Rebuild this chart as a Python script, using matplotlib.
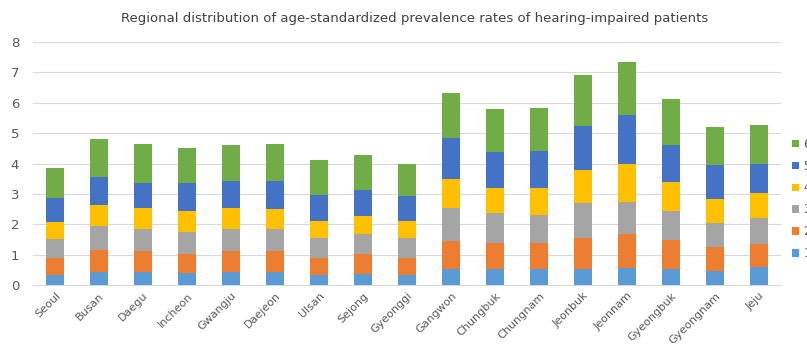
import numpy as np
import matplotlib
matplotlib.use('Agg')
import matplotlib.pyplot as plt

regions = ['Seoul', 'Busan', 'Daegu', 'Incheon', 'Gwangju', 'Daejeon', 'Ulsan',
           'Sejong', 'Gyeonggi', 'Gangwon', 'Chungbuk', 'Chungnam', 'Jeonbuk',
           'Jeonnam', 'Gyeongbuk', 'Gyeongnam', 'Jeju']

# prevalence by group (1..6), one value per region
g1 = [0.33, 0.42, 0.42, 0.38, 0.43, 0.42, 0.32, 0.35, 0.33, 0.52, 0.52, 0.52, 0.54, 0.56, 0.52, 0.45, 0.58]
g2 = [0.55, 0.73, 0.71, 0.64, 0.70, 0.71, 0.56, 0.66, 0.57, 0.93, 0.87, 0.85, 1.00, 1.11, 0.96, 0.81, 0.76]
g3 = [0.63, 0.79, 0.73, 0.71, 0.72, 0.72, 0.68, 0.66, 0.66, 1.09, 0.98, 0.95, 1.15, 1.07, 0.97, 0.77, 0.85]
g4 = [0.55, 0.71, 0.66, 0.70, 0.69, 0.64, 0.56, 0.60, 0.56, 0.94, 0.84, 0.86, 1.09, 1.26, 0.94, 0.79, 0.83]
g5 = [0.79, 0.91, 0.85, 0.94, 0.89, 0.94, 0.84, 0.86, 0.81, 1.37, 1.18, 1.23, 1.45, 1.59, 1.23, 1.13, 0.98]
g6 = [0.99, 1.26, 1.28, 1.14, 1.19, 1.22, 1.17, 1.14, 1.05, 1.48, 1.39, 1.43, 1.68, 1.75, 1.50, 1.26, 1.26]

groups = ['1', '2', '3', '4', '5', '6']
colors = ['#5B9BD5', '#ED7D31', '#A5A5A5', '#FFC000', '#4472C4', '#70AD47']

fig = plt.figure(figsize=(8.07, 3.45), dpi=100)
ax = fig.add_axes([0.041, 0.174, 0.927, 0.704])

x = np.arange(len(regions))
bottom = np.zeros(len(regions))
bars = []
for vals, name, c in zip([g1, g2, g3, g4, g5, g6], groups, colors):
    b = ax.bar(x, vals, 0.41, bottom=bottom, color=c, label=name, zorder=3)
    bars.append(b)
    bottom += np.array(vals)

ax.set_xlim(-0.5, len(regions) - 0.5)
ax.set_ylim(0, 8)
ax.set_yticks(range(0, 9))
ax.grid(axis='y', color='#D9D9D9', linewidth=0.8, zorder=0)
for s in ['top', 'right', 'left']:
    ax.spines[s].set_visible(False)
ax.spines['bottom'].set_color('#D9D9D9')
ax.tick_params(axis='both', length=0, colors='#595959')
ax.tick_params(axis='y', pad=10, labelsize=9.5)
ax.tick_params(axis='x', pad=4, labelsize=8)
ax.set_xticks(x)
ax.set_xticklabels(regions, rotation=45, ha='right', rotation_mode='anchor')

fig.text(0.514, 0.945, 'Regional distribution of age-standardized prevalence rates of hearing-impaired patients',
         ha='center', va='center', fontsize=9.5, color='#404040')

# legend on the right, top entry = group 6
ax.legend(bars[::-1], groups[::-1], loc='upper left', bbox_to_anchor=(1.0, 0.65),
          frameon=False, fontsize=8.5, handlelength=0.6, handleheight=0.6,
          handletextpad=0.4, labelspacing=0.75, labelcolor='#595959')

fig.savefig('out.png', dpi=100)
